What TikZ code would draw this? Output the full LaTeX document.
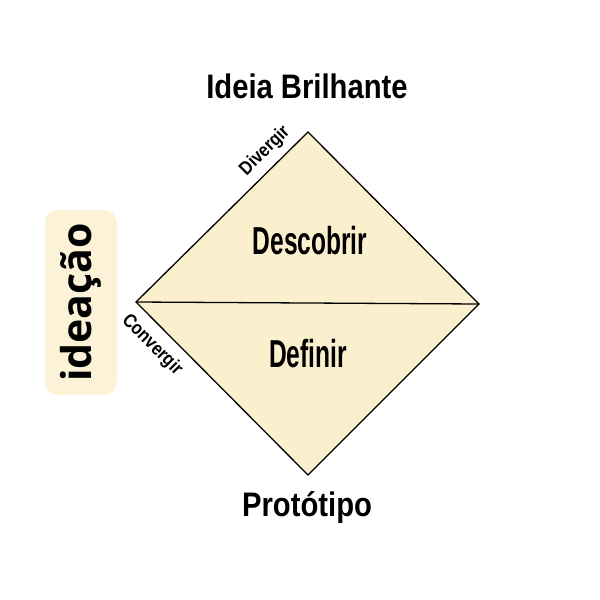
\documentclass[tikz,border=0pt]{standalone}
\usepackage{fontspec}
\newfontfamily\cond[FakeStretch=0.63]{Liberation Sans}
\newfontfamily\condw[FakeStretch=0.86]{Liberation Sans}
\newfontfamily\opensans{Open Sans}
\definecolor{fillY}{HTML}{FAF0CD}
\definecolor{boxY}{HTML}{FBF2D7}
\begin{document}
\begin{tikzpicture}[x=1pt,y=-1pt,
  lbl/.style={font=\cond\bfseries\fontsize{39}{39}\selectfont, inner sep=0pt, anchor=base},
  lblw/.style={font=\condw\bfseries\fontsize{34}{34}\selectfont, inner sep=0pt, anchor=base},
  small/.style={font=\condw\bfseries\fontsize{19}{19}\selectfont, inner sep=0pt},
  edge/.style={draw=black, line width=1.3pt, line join=miter}]
\useasboundingbox (0,0) rectangle (600,600);
\coordinate (T) at (308,132);
\coordinate (R) at (479,304);
\coordinate (B) at (308,475);
\coordinate (L) at (136,302);
\fill[fillY] (T) -- (R) -- (B) -- (L) -- cycle;
\draw[edge] (T) -- (R) -- (B) -- (L) -- cycle;
\draw[edge] (L) -- (R);
\node[lblw] (title) at (307,98) {Ideia Brilhante};
\node[lblw] (proto) at (307,516) {Protótipo};
\node[lbl] (desc) at (310,254) {Descobrir};
\node[lbl] (def) at (308,367) {Definir};
\node[small, rotate=45] (div) at (265,151) {Divergir};
\node[small, rotate=-45] (conv) at (152,345) {Convergir};
\node[fill=boxY, rounded corners=13pt, minimum width=72pt, minimum height=185pt] (box) at (81,302.5) {};
\node[font=\opensans\bfseries\fontsize{41}{41}\selectfont, rotate=90, inner sep=0pt] (idea) at (box.center) {ideação};
\end{tikzpicture}
\end{document}
